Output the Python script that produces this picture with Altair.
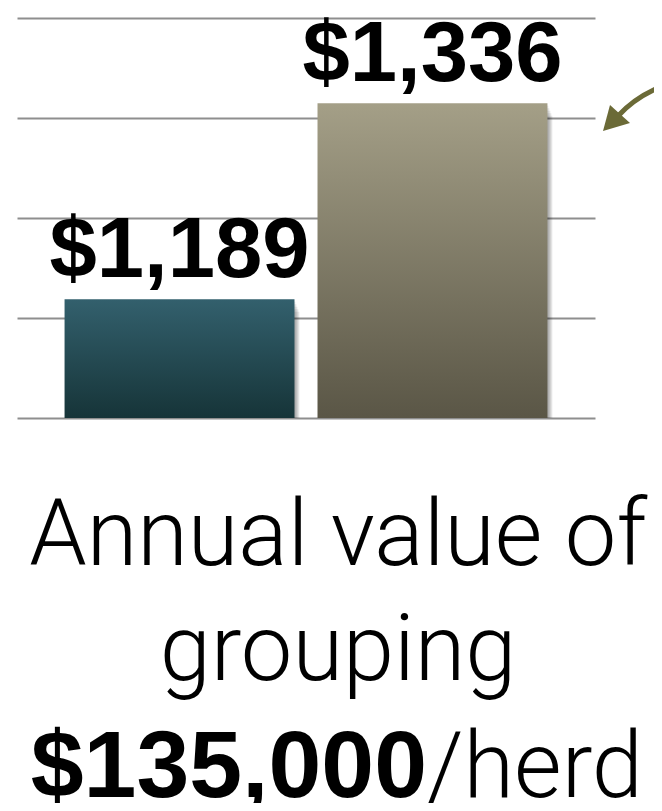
import altair as alt
import pandas as pd

# ---- data ----
categories = ["Current", "Grouped"]
values = [1189, 1336]
grid_values = [1100, 1175, 1250, 1325, 1400]
caption_line1 = "Annual value of"
caption_line2 = "grouping"
caption_bold = "$135,000"
caption_tail = "/herd"

df = pd.DataFrame({"group": categories, "value": values})

W, H = 578, 400
LABEL_FONT = "Liberation Sans"
LIGHT_FONT = "Roboto"

xscale = alt.Scale(domain=categories, paddingInner=0.091, paddingOuter=0.188)
yscale = alt.Scale(domain=[1100, 1400], zero=False, nice=False)

base = alt.Chart(df).encode(
    x=alt.X("group:N", scale=xscale, axis=None),
    y=alt.Y(
        "value:Q",
        scale=yscale,
        axis=alt.Axis(
            values=grid_values, labels=False, ticks=False, domain=False,
            grid=True, gridColor="#8e8e8e", gridWidth=2, title=None,
        ),
    ),
    y2=alt.datum(1100),
)

shadows = [
    base.mark_bar(color="black", opacity=0.08, xOffset=o, yOffset=o * 2.5)
    for o in (1, 2, 3, 4, 5)
]

grad1 = alt.Gradient(
    gradient="linear", x1=0, x2=0, y1=0, y2=1,
    stops=[alt.GradientStop(color="#33606d", offset=0),
           alt.GradientStop(color="#163438", offset=1)],
)
grad2 = alt.Gradient(
    gradient="linear", x1=0, x2=0, y1=0, y2=1,
    stops=[alt.GradientStop(color="#a49f87", offset=0),
           alt.GradientStop(color="#5a5646", offset=1)],
)

bar1 = base.mark_bar(color=grad1).transform_filter(alt.datum.group == categories[0])
bar2 = base.mark_bar(color=grad2).transform_filter(alt.datum.group == categories[1])

labels = alt.Chart(df).mark_text(
    font=LABEL_FONT, fontWeight="bold", fontSize=85, baseline="alphabetic",
    dy=-22, color="black",
).encode(
    x=alt.X("group:N", scale=xscale, axis=None),
    y=alt.Y("value:Q", scale=yscale),
    text=alt.Text("value:Q", format="$,.0f"),
)

CX = 321


def caption(txt, x, y, font, weight, size, align):
    return alt.Chart(pd.DataFrame({"t": [txt]})).mark_text(
        font=font, fontWeight=weight, fontSize=size, align=align,
        baseline="alphabetic", color="black",
    ).encode(x=alt.value(x), y=alt.value(y), text="t:N")


cap1 = caption(caption_line1, CX, 547, LIGHT_FONT, 300, 92, "center")
cap2 = caption(caption_line2, CX, 662, LIGHT_FONT, 300, 92, "center")
cap3a = caption(caption_bold, 410, 779, LABEL_FONT, "bold", 95, "right")
cap3b = caption(caption_tail, 410, 779, LIGHT_FONT, 300, 92, "left")

one = pd.DataFrame({"k": [0]})
arrow_head = alt.Chart(one).mark_point(
    shape="M0,0 L7,-26 L27,-8 Z", size=4, filled=True, opacity=1,
    color="#6b6a37", strokeWidth=0,
).encode(x=alt.value(586), y=alt.value(113))
arrow_shaft = alt.Chart(one).mark_point(
    shape="M15,-15 Q33,-35 62,-46", size=4, filled=False, opacity=1,
    color="#6b6a37", strokeWidth=5,
).encode(x=alt.value(586), y=alt.value(113))

chart = alt.layer(
    *shadows, bar1, bar2, labels, cap1, cap2, cap3a, cap3b, arrow_shaft, arrow_head
).properties(
    width=W, height=H,
    autosize=alt.AutoSizeParams(type="none"),
    padding={"left": 9, "top": 10, "right": 59, "bottom": 385},
).configure_view(stroke=None)

chart.save("out.html", embed_options={"renderer": "svg", "actions": False})
